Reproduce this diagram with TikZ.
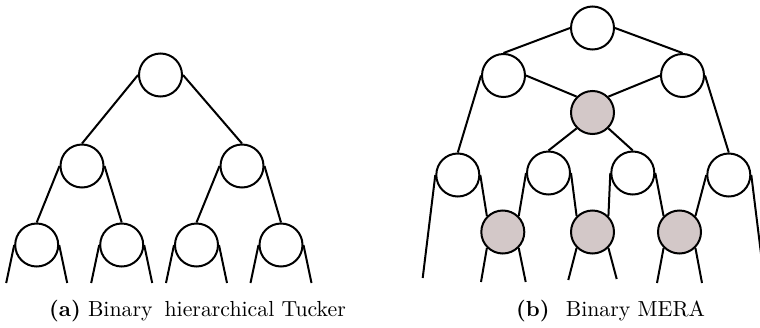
\documentclass[tikz,border=0pt]{standalone}
\usetikzlibrary{calc}
\definecolor{grayfill}{RGB}{211,200,200}
\begin{document}
\begin{tikzpicture}[x=0.5pt,y=-0.5pt,
  wnode/.style={circle,draw=black,fill=white,line width=1pt,inner sep=0pt,minimum size=21.5pt},
  gnode/.style={wnode,fill=grayfill},
  edge/.style={line width=1pt},
  capt/.style={anchor=base,font=\fontsize{10.9}{13}\selectfont,inner sep=0pt}]
\useasboundingbox (0,0) rectangle (760,327);
\clip (0,0) rectangle (760,327);
% ---------- (a) binary hierarchical Tucker ----------
\node[wnode] (R)  at (160.5,75) {};
\node[wnode] (A1) at (82,166) {};
\node[wnode] (A2) at (242,166) {};
\node[wnode] (B1) at (36.7,245) {};
\node[wnode] (B2) at (121.7,245) {};
\node[wnode] (B3) at (196.5,245) {};
\node[wnode] (B4) at (281,245) {};
\draw[edge] (R.west) -- (A1.north);
\draw[edge] (R.east) -- (A2.north);
\draw[edge] (A1.west) -- (B1.north);
\draw[edge] (A1.east) -- (B2.north);
\draw[edge] (A2.west) -- (B3.north);
\draw[edge] (A2.east) -- (B4.north);
\foreach \n in {B1,B2,B3,B4}{
  \coordinate (\n l) at ($(\n.west)+(-8,38)$);
  \coordinate (\n r) at ($(\n.east)+(8,38)$);
  \draw[edge] (\n.west) -- (\n l);
  \draw[edge] (\n.east) -- (\n r);
}
\node[capt] (capA) at (197.5,316) {\textbf{(a)} Binary\hspace{0.55em}hierarchical Tucker};
% ---------- (b) binary MERA ----------
\node[wnode] (T)  at (592.5,28) {};
\node[wnode] (L)  at (503.5,75.5) {};
\node[wnode] (Rr) at (682.5,75.5) {};
\node[gnode] (G)  at (592.5,112.5) {};
\node[wnode] (C1) at (457.8,175) {};
\node[wnode] (C2) at (548.5,173) {};
\node[wnode] (C3) at (632.8,173) {};
\node[wnode] (C4) at (728.8,175) {};
\node[gnode] (H1) at (502.8,232) {};
\node[gnode] (H2) at (592.5,232) {};
\node[gnode] (H3) at (679.5,232) {};
\draw[edge] (T.west) -- (L.north);
\draw[edge] (T.east) -- (Rr.north);
\draw[edge] (L.east) -- (G.north west);
\draw[edge] (Rr.west) -- (G.north east);
\draw[edge] (L.west) -- (C1.north);
\draw[edge] (Rr.east) -- (C4.north);
\draw[edge] (G.south west) -- (C2.north);
\draw[edge] (G.south east) -- (C3.north);
\draw[edge] (C1.east) -- (H1.north west);
\draw[edge] (C2.west) -- (H1.north east);
\draw[edge] (C2.east) -- (H2.north west);
\draw[edge] (C3.west) -- (H2.north east);
\draw[edge] (C3.east) -- (H3.north west);
\draw[edge] (C4.west) -- (H3.north east);
\coordinate (C1l) at (422.7,278);
\coordinate (C4r) at (764,278);
\draw[edge] (C1.west) -- (C1l);
\draw[edge] (C4.east) -- (C4r);
\coordinate (H1l) at (481,282);
\coordinate (H1r) at (525.7,282);
\coordinate (H2l) at (568.3,280);
\coordinate (H2r) at (616.7,279);
\coordinate (H3l) at (657,283);
\coordinate (H3r) at (702,283);
\draw[edge] (H1.south west) -- (H1l);
\draw[edge] (H1.south east) -- (H1r);
\draw[edge] (H2.south west) -- (H2l);
\draw[edge] (H2.south east) -- (H2r);
\draw[edge] (H3.south west) -- (H3l);
\draw[edge] (H3.south east) -- (H3r);
\node[capt] (capB) at (610.5,316) {\textbf{(b)}\hspace{0.75em}Binary MERA};
\end{tikzpicture}
\end{document}
